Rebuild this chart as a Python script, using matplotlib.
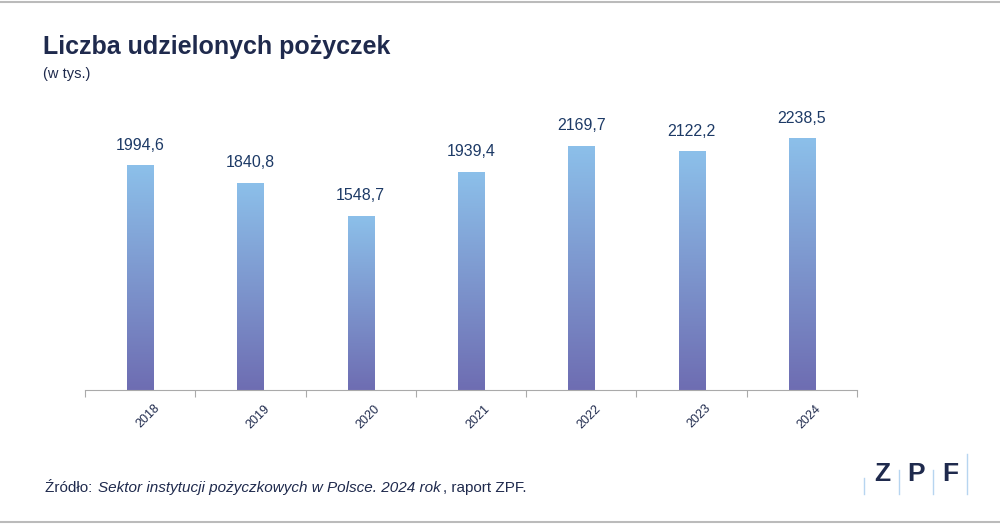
import numpy as np
import matplotlib.pyplot as plt
from matplotlib.colors import LinearSegmentedColormap
from matplotlib.lines import Line2D

plt.rcParams['font.family'] = 'Liberation Sans'

years = ['2018', '2019', '2020', '2021', '2022', '2023', '2024']
values = [1994.6, 1840.8, 1548.7, 1939.4, 2169.7, 2122.2, 2238.5]
labels = ['1994,6', '1840,8', '1548,7', '1939,4', '2169,7', '2122,2', '2238,5']

navy = '#1f2a4d'
lblue = '#1d3a66'
fig = plt.figure(figsize=(10, 5.25), dpi=100)
ax = fig.add_axes([0.085, 1 - 390 / 525, 0.772, 281.5 / 525])
ymax = 2500
ax.set_xlim(-0.5, len(years) - 0.5)
ax.set_ylim(0, ymax)

cmap = LinearSegmentedColormap.from_list('g', ['#6e6db2', '#8cc0ea'])
grad = np.linspace(0, 1, 256).reshape(-1, 1)
w = 0.236
bars = ax.bar(range(len(years)), values, width=w, color='none')
for b, v, lab in zip(bars, values, labels):
    x0 = b.get_x()
    im = ax.imshow(grad, extent=[x0, x0 + w, 0, v], origin='lower', cmap=cmap,
                   aspect='auto', zorder=2)
    im.set_clip_path(b)
    ax.text(b.get_x() + w / 2, v + 110, lab, ha='center', va='bottom',
            fontsize=11.5, color=lblue)
ax.set_aspect('auto')

for s in ['top', 'right', 'left']:
    ax.spines[s].set_visible(False)
ax.spines['bottom'].set_color('#aaaaaa')
ax.set_yticks([])
ax.set_xticks(np.arange(-0.5, len(years)))
ax.set_xticklabels([])
ax.tick_params(axis='x', length=5, color='#aaaaaa')
for i, y in enumerate(years):
    ax.text(i + 0.12, -110, y, rotation=45, ha='right', va='top', fontsize=9,
            color=navy, rotation_mode='anchor')

fig.text(0.043, 1 - 47 / 525, 'Liczba udzielonych pożyczek', fontsize=18,
         fontweight='bold', color=navy, va='center')
fig.text(0.043, 1 - 74 / 525, '(w tys.)', fontsize=10.5, color=navy, va='center')

# footer, pieces chained one after another
fig.canvas.draw()
r = fig.canvas.get_renderer()
x = 45
for txt, st in [('Źródło: ', 'normal'),
                ('Sektor instytucji pożyczkowych w Polsce. 2024 rok', 'italic'),
                (', raport ZPF.', 'normal')]:
    t = fig.text(x / 1000, 1 - 488 / 525, txt, fontsize=11, color=navy,
                 va='center', style=st)
    x = t.get_window_extent(r).x1 + 2

for xp, ch in zip([0.882, 0.916, 0.950], 'ZPF'):
    fig.text(xp, 1 - 474 / 525, ch, fontsize=19, fontweight='bold',
             color=navy, ha='center', va='center')
for xp, y0, y1 in [(0.864, 478, 494), (0.899, 470, 494), (0.933, 470, 494), (0.967, 454, 494)]:
    fig.add_artist(Line2D([xp, xp], [1 - y1 / 525, 1 - y0 / 525],
                          color='#b7d5f0', lw=1))
fig.add_artist(Line2D([0, 1], [1 - 2 / 525] * 2, color='#bbbbbb', lw=1.5))
fig.add_artist(Line2D([0, 1], [1 - 522 / 525] * 2, color='#bbbbbb', lw=1.5))

fig.savefig('out.png', dpi=100)
